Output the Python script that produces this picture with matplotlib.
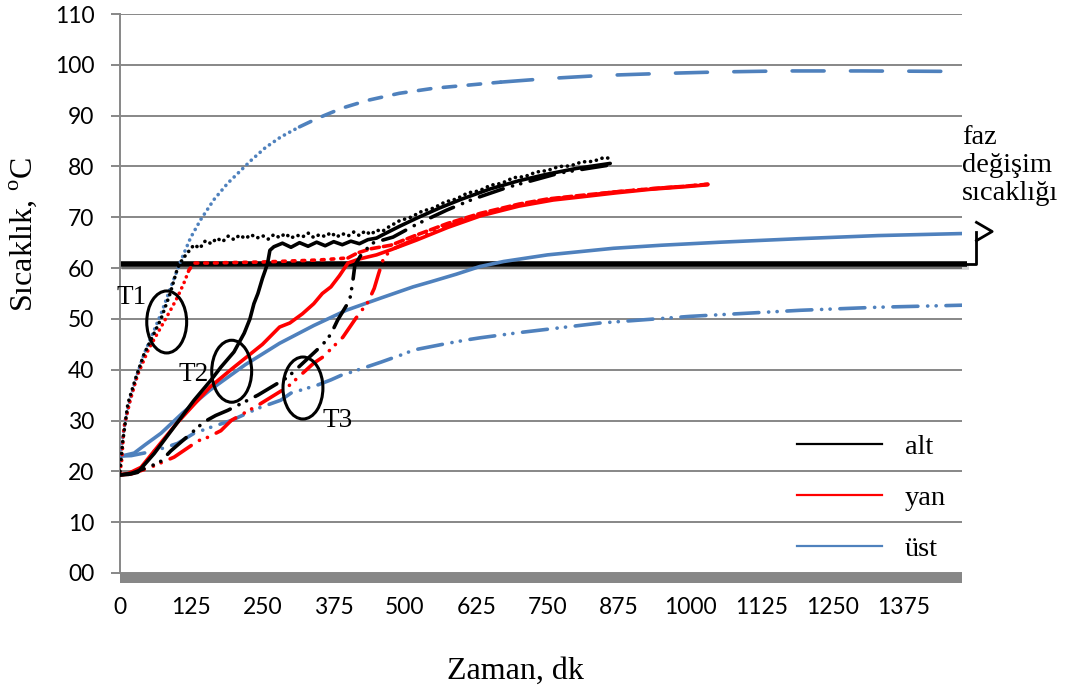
import numpy as np
import matplotlib
matplotlib.use("Agg")
import matplotlib.pyplot as plt
from matplotlib.lines import Line2D
from matplotlib.patches import Ellipse
import matplotlib.patheffects as pe

# ── Veriler ──────────────────────────────────────────────────────────────────
# alt (siyah)
alt_t1_t = [0, 5, 14, 28, 42, 57, 72, 88, 101, 110, 120, 130, 140, 150, 160, 170, 180,
            190, 200, 210, 220, 230, 240, 250, 260, 270, 280, 290, 300, 310, 320, 330,
            340, 350, 360, 370, 380, 390, 400, 410, 420, 430, 440, 450, 460, 470, 490,
            510, 530, 550, 570, 590, 610, 630, 650, 670, 690, 710, 730, 750, 770, 790,
            810, 830, 850, 862]
alt_t1_v = [20, 26, 33.4, 38.5, 43, 46.5, 50, 55, 60, 61.8, 63.2, 64.6, 63.9, 65.4, 64.8,
            65.9, 65.2, 66.3, 65.6, 66.5, 65.8, 66.6, 65.9, 66.4, 65.7, 66.6, 66.0, 66.8,
            65.9, 66.5, 66.1, 66.9, 66.0, 66.6, 66.2, 67.0, 66.1, 66.8, 66.3, 67.1, 66.4,
            67.3, 66.6, 67.5, 67.2, 68.0, 69.3, 70.0, 71.2, 71.8, 73.0, 73.6, 74.8, 75.2,
            76.3, 76.7, 77.8, 78.0, 78.9, 79.2, 80.0, 80.1, 80.9, 81.0, 81.8, 81.5]

alt_t2_t = [0, 15, 31, 60, 90, 130, 160, 177, 200, 218, 228, 235, 242, 250, 255, 259, 263,
            270, 285, 300, 315, 330, 345, 360, 375, 390, 405, 420, 435, 450, 460, 490, 520,
            560, 600, 650, 700, 750, 800, 860]
alt_t2_v = [19.3, 19.4, 19.8, 23.5, 28, 34, 38, 40.5, 43.5, 47.2, 50, 53, 55, 58, 59.6, 61,
            63.5, 64.2, 64.9, 64.1, 65.0, 64.3, 65.1, 64.4, 65.2, 64.6, 65.3, 64.8, 65.6,
            65.9, 66.5, 68.2, 69.8, 71.8, 73.6, 75.6, 77.2, 78.5, 79.6, 80.6]

alt_t3_t = [0, 20, 54, 72, 89, 130, 147, 168, 189, 242, 294, 340, 356, 370, 382, 403, 408,
            412, 425, 445, 479, 520, 573, 620, 680, 771, 820, 860]
alt_t3_v = [19.3, 19.6, 21, 22, 24, 28, 29.7, 31, 32, 35, 38.5, 43.3, 45, 47, 49.8, 53.7,
            57, 60.5, 63, 65, 66.1, 68.6, 71.4, 73.6, 75.9, 78.7, 79.6, 80.3]

# yan (kırmızı)
yan_t1_t = [0, 3, 7, 18, 31, 50, 72, 90, 101, 112, 121, 130, 160, 200, 250, 300, 350, 400,
            417, 440, 475, 520, 575, 633, 700, 750, 808, 870, 930, 990, 1031]
yan_t1_v = [19.8, 22, 28.7, 34, 39, 44, 48.4, 52, 54.3, 57, 59.6, 61, 61, 61.1, 61.2, 61.4,
            61.6, 62, 63, 63.8, 64.5, 66.5, 68.8, 70.8, 72.6, 73.6, 74.3, 75, 75.6, 76.1,
            76.5]

yan_t2_t = [0, 15, 37, 60, 100, 158, 200, 250, 280, 298, 320, 340, 355, 370, 385, 400, 420,
            450, 475, 520, 575, 633, 700, 760, 808, 870, 930, 990, 1031]
yan_t2_v = [19.3, 19.6, 20.8, 24, 29.5, 36.6, 40.5, 45, 48.4, 49.2, 51, 53, 55, 56.3, 58.5,
            61, 61.8, 62.6, 63.6, 65.5, 68, 70.3, 72.2, 73.4, 74, 74.8, 75.5, 76, 76.4]

yan_t3_t = [0, 20, 54, 95, 137, 154, 177, 195, 242, 294, 340, 356, 373, 391, 413, 435, 446,
            454, 462, 475, 520, 575, 633, 700, 760, 808, 870, 930, 990, 1031]
yan_t3_v = [19.3, 19.5, 20.8, 22.8, 26, 26.7, 28, 30, 33, 36.6, 41.3, 42.5, 44.4, 46.4, 50,
            53.3, 56, 59, 61.8, 63.6, 65.8, 68.3, 70.5, 72.4, 73.6, 74.2, 75, 75.6, 76.1,
            76.5]

# üst (mavi)
ust_t1_t = [0, 4, 10, 19, 30, 42, 57, 72, 90, 107, 124, 142, 165, 189, 210, 230, 255, 282,
            315, 347, 390, 434, 490, 551, 610, 668, 750, 843, 950, 1050, 1164, 1300, 1474]
ust_t1_v = [22, 26, 30.5, 34.6, 39, 43, 47, 51, 56.5, 61.5, 66, 69.6, 73.5, 76.7, 79, 81.2,
            83.7, 85.8, 87.8, 89.5, 91.5, 93, 94.4, 95.4, 96, 96.6, 97.3, 97.9, 98.3, 98.6,
            98.8, 98.8, 98.7]

ust_t2_t = [0, 10, 25, 45, 72, 110, 158, 220, 280, 340, 397, 460, 514, 545, 590, 631, 673,
            750, 866, 950, 1054, 1194, 1330, 1478]
ust_t2_v = [23, 23.2, 23.6, 25.3, 27.5, 31.5, 36, 41, 45.2, 48.7, 51.7, 54.2, 56.3, 57.3,
            58.8, 60.3, 61.3, 62.6, 63.9, 64.5, 65.1, 65.8, 66.4, 66.8]

ust_t3_t = [0, 20, 60, 101, 130, 160, 195, 242, 282, 300, 347, 370, 390, 405, 458, 493, 516,
            557, 575, 610, 633, 700, 843, 1000, 1194, 1330, 1478]
ust_t3_v = [23, 23.1, 24, 25.5, 27.5, 28.7, 30, 32.4, 34, 35.4, 37, 38, 39, 39.5, 41.5, 42.9,
            43.9, 44.8, 45.2, 45.9, 46.3, 47.3, 49.2, 50.5, 51.7, 52.3, 52.7]

PHASE_T = 60.9
X_TICKS = list(range(0, 1376, 125))
Y_TICKS = list(range(0, 111, 10))
LEGEND_LABELS = ["alt", "yan", "üst"]

# elips işaretleri: (etiket, merkez t, merkez T, etiket t, etiket T)
MARKS = [("T1", 82, 49.4, 21, 54.9),
         ("T2", 196, 39.7, 130, 39.6),
         ("T3", 321, 36.4, 381, 30.6)]

# ── Stil ──────────────────────────────────────────────────────────────────────
BLACK, RED, BLUE, GRAY = "#000000", "#FF0000", "#4F81BD", "#878787"
SERIF = "Liberation Serif"
SANS = "Lato"

plt.rcParams["lines.scale_dashes"] = False
plt.rcParams["mathtext.fontset"] = "custom"
plt.rcParams["mathtext.rm"] = SERIF

DOT = (0, (0.1, 4.2))
DASH_DOT_DOT = (0, (18, 7, 0.1, 6, 0.1, 7))
LW = 2.6

fig = plt.figure(figsize=(10.73, 6.91), dpi=100)
ax = fig.add_axes([0.1118, 0.1708, 0.7847, 0.8089])
ax.set_xlim(0, 1477)
ax.set_ylim(0, 110)


def seg(t, v, lo, hi):
    t = np.asarray(t, float)
    v = np.asarray(v, float)
    m = (t >= lo) & (t <= hi)
    return t[m], v[m]


def draw(t, v, color, ls, lw=LW):
    ax.plot(t, v, color=color, ls=ls, lw=lw, dash_capstyle="round",
            solid_capstyle="round", zorder=3)


# faz değişim çizgisi
ax.plot([0, 1485], [PHASE_T, PHASE_T], color=BLACK, lw=4, clip_on=False, zorder=2.5,
        solid_capstyle="butt",
        path_effects=[pe.SimpleLineShadow(offset=(1.5, -2.5), shadow_color="k", alpha=0.18),
                      pe.Normal()])

# üst
draw(*seg(ust_t1_t, ust_t1_v, 0, 315), BLUE, DOT)
draw(*seg(ust_t1_t, ust_t1_v, 315, 668), BLUE, (0, (9, 9)))
draw(*seg(ust_t1_t, ust_t1_v, 668, 1500), BLUE, (0, (23, 19)))
draw(ust_t2_t, ust_t2_v, BLUE, "-")
draw(ust_t3_t, ust_t3_v, BLUE, DASH_DOT_DOT)

# yan
draw(*seg(yan_t1_t, yan_t1_v, 0, 121), RED, DOT)
draw(*seg(yan_t1_t, yan_t1_v, 121, 400), RED, (0, (2, 5)))
draw(*seg(yan_t1_t, yan_t1_v, 400, 1100), RED, (0, (6, 3)))
draw(yan_t2_t, yan_t2_v, RED, "-")
draw(yan_t3_t, yan_t3_v, RED, DASH_DOT_DOT)

# alt
draw(alt_t1_t, alt_t1_v, BLACK, DOT)
draw(alt_t2_t, alt_t2_v, BLACK, "-")
draw(alt_t3_t, alt_t3_v, BLACK, DASH_DOT_DOT)

# elipsler
for name, cx, cy, lx, ly in MARKS:
    ax.add_patch(Ellipse((cx, cy), 70, 12.2, fill=False, ec=BLACK, lw=2.2, zorder=4))
    ax.text(lx, ly, name, family=SERIF, fontsize=19.5, ha="center", va="center_baseline",
            zorder=5)

# ok ve açıklama
ax.plot([1485, 1502.5, 1502.5], [PHASE_T, PHASE_T, 67.2], color=BLACK, lw=2,
        clip_on=False, zorder=3)
ax.plot([1502.5, 1530, 1502.5], [69.0, 67.2, 65.4], color=BLACK, lw=2,
        clip_on=False, zorder=3)
ax.text(1477, 88.2, "faz\ndeğişim\nsıcaklığı", family=SERIF, fontsize=20.5,
        ha="left", va="top", linespacing=1.15)

# eksenler
ax.set_yticks(Y_TICKS)
ax.set_yticklabels([f"{v:02d}" for v in Y_TICKS])
ax.set_xticks(X_TICKS)
ax.set_xticklabels([str(v) for v in X_TICKS])
ax.grid(axis="y", color=GRAY, lw=1.4)
ax.set_axisbelow(True)
ax.tick_params(axis="both", labelsize=16.5, labelfontfamily=SANS)
ax.tick_params(axis="y", length=6.5, width=1.4, color=GRAY, pad=12)
ax.tick_params(axis="x", length=0, pad=14)
for s in ("top", "right"):
    ax.spines[s].set_visible(False)
ax.spines["left"].set_color(GRAY)
ax.spines["left"].set_linewidth(1.4)
ax.spines["bottom"].set_color(GRAY)
ax.spines["bottom"].set_linewidth(7.2)
ax.spines["bottom"].set_position(("outward", 3.6))
ax.spines["bottom"].set_capstyle("butt")

fig.text(515 / 1073, 1 - 679 / 691, "Zaman, dk", family=SERIF, fontsize=23,
         ha="center", va="baseline")
fig.text(23 / 1073, 1 - 235 / 691, "Sıcaklık, $^{\\mathrm{o}}$C", family=SERIF,
         fontsize=23, rotation=90, ha="center", va="center")

handles = [Line2D([], [], color=c, lw=1.6) for c in (BLACK, RED, BLUE)]
leg = ax.legend(handles, LEGEND_LABELS, loc="upper left", bbox_to_anchor=(0.804, 0.248),
                frameon=False, prop={"family": SERIF, "size": 20.5}, handlelength=3.0,
                handletextpad=0.8, labelspacing=0.88, borderpad=0, borderaxespad=0)

fig.savefig("out.png", dpi=100)
